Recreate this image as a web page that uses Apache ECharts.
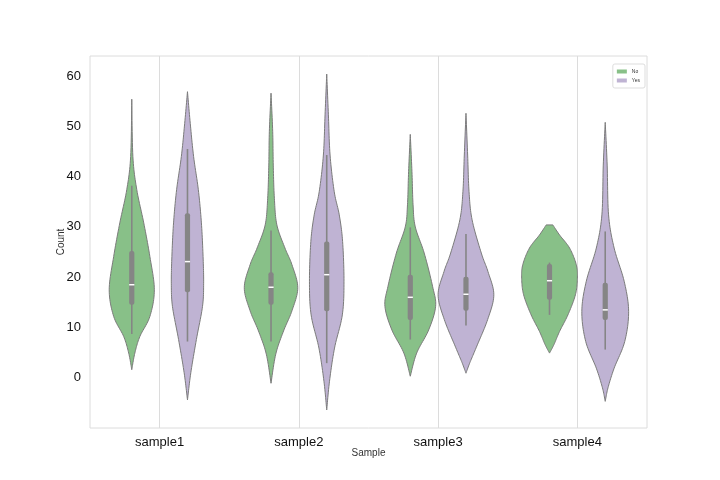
<!DOCTYPE html>
<html>
<head>
<meta charset="utf-8">
<script src="https://cdn.jsdelivr.net/npm/echarts@6/dist/echarts.min.js"></script>
<style>
  html, body { margin: 0; padding: 0; background: #fff; }
  #main { width: 720px; height: 480px; }
</style>
</head>
<body>
<div id="main"></div>
<script>
var chartDom = document.getElementById('main');
var myChart = echarts.init(chartDom);
var option;

var categories = ['sample1', 'sample2', 'sample3', 'sample4'];
var hues = ['No', 'Yes'];

// violin outline: value levels (top to bottom) and relative density at each level
var noLevels = [
    [55.4, 44.0, 37.4, 30.8, 24.1, 17.5, 12.2, 8.2, 4.9, 1.6],
    [56.6, 49.0, 42.3, 35.7, 30.4, 25.8, 22.5, 17.9, 13.3, 9.3, 4.7, -1.1],
    [48.4, 41.0, 34.4, 30.0, 24.8, 18.2, 14.2, 9.5, 4.9, 0.3],
    [30.4, 28.4, 25.8, 22.5, 19.8, 16.5, 12.5, 9.2, 6.6, 4.9]
];
var noDensity = [
    [0, 0.04, 0.18, 0.43, 0.65, 0.81, 0.65, 0.29, 0.11, 0],
    [0, 0.06, 0.08, 0.12, 0.21, 0.50, 0.75, 0.96, 0.75, 0.45, 0.17, 0],
    [0, 0.06, 0.10, 0.18, 0.50, 0.80, 0.91, 0.66, 0.23, 0],
    [0.12, 0.36, 0.72, 0.96, 1.00, 0.93, 0.66, 0.36, 0.16, 0]
];
var yesLevels = [
    [56.9, 50.6, 44.0, 37.4, 30.8, 24.1, 18.8, 14.2, 7.6, 1.0, -4.4],
    [60.4, 52.3, 44.3, 37.0, 32.4, 27.1, 19.1, 12.5, 5.9, -0.7, -6.4],
    [52.6, 44.3, 37.0, 31.4, 24.8, 21.1, 16.5, 11.6, 6.3, 3.0, 0.9],
    [50.8, 42.3, 32.4, 25.8, 19.2, 13.2, 7.2, 1.9, -2.0, -4.7]
];
var yesDensity = [
    [0, 0.10, 0.22, 0.39, 0.50, 0.56, 0.58, 0.54, 0.32, 0.12, 0],
    [0, 0.06, 0.12, 0.27, 0.45, 0.57, 0.62, 0.56, 0.28, 0.10, 0],
    [0, 0.06, 0.11, 0.22, 0.55, 0.79, 1.00, 0.78, 0.39, 0.14, 0],
    [0, 0.07, 0.12, 0.32, 0.68, 0.84, 0.70, 0.32, 0.10, 0]
];
// inner box: [whisker low, q1, median, q3, whisker high]
var noStats = [
    [8.7, 14.5, 18.5, 25.2, 38.2],
    [7.2, 14.5, 18.0, 21.0, 29.3],
    [7.6, 11.5, 16.0, 20.5, 29.9],
    [12.5, 15.5, 19.3, 22.6, 22.9]
];
var yesStats = [
    [7.2, 17.0, 23.1, 32.7, 45.5],
    [2.9, 13.2, 20.5, 27.1, 44.3],
    [10.4, 13.3, 16.6, 20.1, 28.6],
    [5.6, 11.5, 13.5, 18.9, 29.1]
];

var yTicks = [0, 10, 20, 30, 40, 50, 60];

var edgeColor = '#7b7b7b';
var boxColor = '#858585';

// catmull-rom curve through the outline points, only for drawing a smooth edge
function smoothSide(pts) {
    var out = [];
    var n = pts.length;
    for (var k = 0; k < n - 1; k++) {
        var p0 = pts[Math.max(k - 1, 0)], p1 = pts[k], p2 = pts[k + 1], p3 = pts[Math.min(k + 2, n - 1)];
        for (var s = 0; s < 12; s++) {
            var t = s / 12, t2 = t * t, t3 = t2 * t;
            var pt = [0, 1].map(function (d) {
                return 0.5 * ((2 * p1[d]) + (-p0[d] + p2[d]) * t +
                    (2 * p0[d] - 5 * p1[d] + 4 * p2[d] - p3[d]) * t2 +
                    (-p0[d] + 3 * p1[d] - 3 * p2[d] + p3[d]) * t3);
            });
            out.push(pt);
        }
    }
    out.push(pts[n - 1]);
    return out;
}

function violinRenderer(levels, density, stats, side) {
    return function (params, api) {
        var i = params.dataIndex;
        var band = api.size([1, 0])[0];
        var center = api.coord([i, 0])[0] + side * 0.2 * band;
        var maxHalf = 0.2 * band;
        var lv = levels[i], dn = density[i], st = stats[i];
        var right = [], left = [];
        var k;
        for (k = 0; k < lv.length; k++) {
            var y = api.coord([i, lv[k]])[1];
            right.push([center + dn[k] * maxHalf, y]);
            left.push([center - dn[k] * maxHalf, y]);
        }
        var pts = smoothSide(right).concat(smoothSide(left.reverse()));
        var yLow = api.coord([i, st[0]])[1];
        var yQ1 = api.coord([i, st[1]])[1];
        var yMed = api.coord([i, st[2]])[1];
        var yQ3 = api.coord([i, st[3]])[1];
        var yHigh = api.coord([i, st[4]])[1];
        return {
            type: 'group',
            children: [
                {
                    type: 'polygon',
                    shape: { points: pts },
                    style: { fill: api.visual('color'), stroke: edgeColor, lineWidth: 1 }
                },
                {
                    type: 'line',
                    shape: { x1: center, y1: yHigh, x2: center, y2: yLow },
                    style: { stroke: boxColor, lineWidth: 1.6 }
                },
                {
                    type: 'rect',
                    shape: { x: center - 2.6, y: yQ3, width: 5.2, height: yQ1 - yQ3, r: 2 },
                    style: { fill: boxColor }
                },
                {
                    type: 'line',
                    shape: { x1: center - 2.6, y1: yMed, x2: center + 2.6, y2: yMed },
                    style: { stroke: '#ffffff', lineWidth: 1.5 }
                }
            ]
        };
    };
}

function seriesData(levels) {
    return levels.map(function (lv, i) {
        return [i, lv[lv.length - 1], lv[0]];
    });
}

option = {
    backgroundColor: '#ffffff',
    textStyle: { fontFamily: 'Liberation Sans, Arial, sans-serif' },
    legend: {
        data: hues,
        orient: 'vertical',
        right: 75,
        top: 64,
        icon: 'rect',
        itemWidth: 10,
        itemHeight: 4,
        itemGap: 4,
        padding: [5, 5, 5, 4],
        borderColor: '#dddddd',
        borderWidth: 1,
        borderRadius: 2,
        textStyle: { fontSize: 5, color: '#333' }
    },
    grid: {
        left: 90,
        right: 73,
        top: 56,
        bottom: 52,
        show: true,
        borderColor: '#dcdcdc',
        borderWidth: 1
    },
    xAxis: {
        type: 'category',
        data: categories,
        boundaryGap: true,
        name: 'Sample',
        nameLocation: 'middle',
        nameGap: 20,
        nameMoveOverlap: false,
        nameTextStyle: { fontSize: 10, color: '#333' },
        axisLine: { show: false },
        axisTick: { show: false, alignWithLabel: true },
        axisLabel: { fontSize: 13, color: '#111', margin: 8 },
        splitLine: { show: true, alignWithLabel: true, lineStyle: { color: '#dcdcdc', width: 1 } }
    },
    yAxis: {
        type: 'value',
        min: -10,
        max: 64,
        interval: 10,
        name: 'Count',
        nameLocation: 'middle',
        nameGap: 24,
        nameMoveOverlap: false,
        nameTextStyle: { fontSize: 10, color: '#333' },
        axisLine: { show: false },
        axisTick: { show: false },
        splitLine: { show: false },
        axisLabel: {
            fontSize: 13,
            color: '#111',
            margin: 9,
            showMaxLabel: false,
            formatter: function (v) {
                return yTicks.indexOf(v) >= 0 ? String(v) : '';
            }
        }
    },
    series: [
        {
            name: 'No',
            type: 'custom',
            renderItem: violinRenderer(noLevels, noDensity, noStats, -1),
            itemStyle: { color: '#88c088' },
            encode: { x: 0, y: [1, 2] },
            data: seriesData(noLevels),
            silent: true
        },
        {
            name: 'Yes',
            type: 'custom',
            renderItem: violinRenderer(yesLevels, yesDensity, yesStats, 1),
            itemStyle: { color: '#bfb3d3' },
            encode: { x: 0, y: [1, 2] },
            data: seriesData(yesLevels),
            silent: true
        }
    ]
};

option && myChart.setOption(option);
</script>
</body>
</html>
